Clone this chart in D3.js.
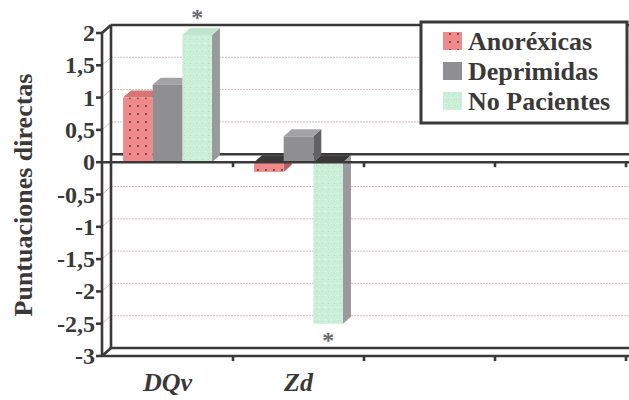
<!DOCTYPE html>
<html>
<head>
<meta charset="utf-8">
<script src="https://cdn.jsdelivr.net/npm/d3@7"></script>
<style>
  body { margin: 0; background: #fff; }
  svg { display: block; }
  text { font-family: "Liberation Serif", "Times New Roman", serif; font-weight: bold; fill: #3b3838; }
</style>
</head>
<body>
<svg id="chart" width="629" height="400"></svg>
<script>
// data
var categories = ["DQv", "Zd"];
var slots = 4; // the axis has room for 4 categories, only 2 used
var series = ["Anoréxicas", "Deprimidas", "No Pacientes"];
var anorexicas = [1.0, -0.15];
var deprimidas = [1.2, 0.4];
var noPacientes = [1.97, -2.5];
var yTicks = [2, 1.5, 1, 0.5, 0, -0.5, -1, -1.5, -2, -2.5, -3];
var asterisks = [["DQv", "No Pacientes"], ["Zd", "No Pacientes"]];

var values = [anorexicas, deprimidas, noPacientes];

var svg = d3.select("#chart");
var W = 629;

var plotLeft = 102, plotRight = 626, plotTop = 33, plotBottom = 356;
var wall = {x: 9, y: -8};   // depth of the back wall
var deep = {x: 8, y: -7};   // depth of a bar
var ink = "#3a3838";

var y = d3.scaleLinear().domain([-3, 2]).range([plotBottom, plotTop]);
var xSlot = d3.scaleBand().domain(d3.range(slots)).range([plotLeft, plotRight]);
var xSer = d3.scaleBand().domain(series).range([0, xSlot.bandwidth()]).paddingOuter(0.71);

var colors = {
    "Anoréxicas":   {front: "url(#dots)",  top: "#d87474", side: "#b86060", sw: "url(#dots)"},
    "Deprimidas":   {front: "#8f8f92",     top: "#a3a3a6", side: "#626264", sw: "#8f8f92"},
    "No Pacientes": {front: "url(#speck)", top: "#bfe6cc", side: "#9a9a9e", sw: "url(#speck)"}
};

// patterns
var defs = svg.append("defs");
var pd = defs.append("pattern").attr("id", "dots").attr("patternUnits", "userSpaceOnUse")
    .attr("width", 8).attr("height", 8);
pd.append("rect").attr("width", 8).attr("height", 8).attr("fill", "#f08a8a");
pd.append("circle").attr("cx", 2).attr("cy", 2).attr("r", 0.9).attr("fill", "#4a3030");
var ps = defs.append("pattern").attr("id", "speck").attr("patternUnits", "userSpaceOnUse")
    .attr("width", 6).attr("height", 6);
ps.append("rect").attr("width", 6).attr("height", 6).attr("fill", "#c9f0d6");
ps.append("rect").attr("x", 1).attr("y", 1).attr("width", 1).attr("height", 1).attr("fill", "#e6fbee");
ps.append("rect").attr("x", 4).attr("y", 3).attr("width", 1).attr("height", 1).attr("fill", "#b2dcc0");
ps.append("rect").attr("x", 2).attr("y", 5).attr("width", 1).attr("height", 1).attr("fill", "#d8d8ea");

// gridlines on back wall and left wall
var grid = svg.append("g");
yTicks.filter(function(t) { return t !== 2 && t !== -3 && t !== 0; }).forEach(function(t) {
    grid.append("line")
        .attr("x1", plotLeft + wall.x).attr("x2", W)
        .attr("y1", y(t) + wall.y).attr("y2", y(t) + wall.y)
        .attr("stroke", "#d8bcc2").attr("stroke-width", 1).attr("stroke-dasharray", "2,1");
    grid.append("line")
        .attr("x1", plotLeft).attr("x2", plotLeft + wall.x)
        .attr("y1", y(t)).attr("y2", y(t) + wall.y)
        .attr("stroke", "#d8bcc2").attr("stroke-width", 1);
});

// frame lines
var frame = svg.append("g").attr("stroke", ink).attr("stroke-width", 2.6).attr("fill", "none");
function seg(x1, y1, x2, y2) {
    frame.append("line").attr("x1", x1).attr("y1", y1).attr("x2", x2).attr("y2", y2);
}
seg(plotLeft + wall.x, y(2) + wall.y, W, y(2) + wall.y);
seg(plotLeft + wall.x, y(2) + wall.y, plotLeft + wall.x, y(-3) + wall.y);
seg(plotLeft + wall.x, y(-3) + wall.y, W, y(-3) + wall.y);
seg(plotLeft, y(2), plotLeft + wall.x, y(2) + wall.y);
seg(plotLeft, y(-3), plotLeft + wall.x, y(-3) + wall.y);
seg(plotLeft + wall.x, y(0) + wall.y, W, y(0) + wall.y);

// bars
var bars = svg.append("g");
categories.forEach(function(cat, ci) {
    series.forEach(function(s, si) {
        var v = values[si][ci];
        var x0 = xSlot(ci) + xSer(s), x1 = x0 + xSer.bandwidth();
        var yTop = y(Math.max(v, 0)), yBot = y(Math.min(v, 0));
        var c = colors[s];
        // side
        bars.append("path")
            .attr("d", "M" + x1 + "," + yTop + "L" + (x1 + deep.x) + "," + (yTop + deep.y) +
                "L" + (x1 + deep.x) + "," + (yBot + deep.y) + "L" + x1 + "," + yBot + "Z")
            .attr("fill", c.side);
        // top
        bars.append("path")
            .attr("d", "M" + x0 + "," + yTop + "L" + (x0 + deep.x) + "," + (yTop + deep.y) +
                "L" + (x1 + deep.x) + "," + (yTop + deep.y) + "L" + x1 + "," + yTop + "Z")
            .attr("fill", v < 0 ? ink : c.top);
        // front
        bars.append("rect")
            .attr("x", x0).attr("y", yTop)
            .attr("width", x1 - x0).attr("height", yBot - yTop)
            .attr("fill", c.front);
    });
});

// front axes over the bars
var axes = svg.append("g").attr("stroke", ink).attr("stroke-width", 2.6).attr("fill", "none");
axes.append("line").attr("x1", plotLeft).attr("x2", plotLeft).attr("y1", y(2)).attr("y2", y(-3));
axes.append("line").attr("x1", plotLeft).attr("x2", W).attr("y1", y(-3)).attr("y2", y(-3));
axes.append("line").attr("x1", plotLeft).attr("x2", W).attr("y1", y(0)).attr("y2", y(0));
yTicks.forEach(function(t) {
    axes.append("line").attr("x1", plotLeft - 6).attr("x2", plotLeft).attr("y1", y(t)).attr("y2", y(t));
});
d3.range(1, slots + 1).forEach(function(i) {
    var xx = xSlot(0) + i * xSlot.step();
    axes.append("line").attr("x1", xx).attr("x2", xx).attr("y1", y(0)).attr("y2", y(0) + 5);
    axes.append("line").attr("x1", xx).attr("x2", xx).attr("y1", y(-3)).attr("y2", y(-3) + 5);
});

// y tick labels
svg.append("g").selectAll("text").data(yTicks).enter().append("text")
    .attr("x", 95).attr("y", function(d) { return y(d) + 8; })
    .attr("text-anchor", "end").attr("font-size", 24)
    .text(function(d) { return String(d).replace(".", ","); });

// y title
svg.append("text")
    .attr("transform", "translate(32,195) rotate(-90)")
    .attr("text-anchor", "middle").attr("font-size", 26)
    .text("Puntuaciones directas");

// category labels
svg.append("g").selectAll("text").data(categories).enter().append("text")
    .attr("x", function(d, i) { return xSlot(i) + xSlot.bandwidth() / 2; })
    .attr("y", 391).attr("text-anchor", "middle")
    .attr("font-size", 26).attr("font-style", "italic")
    .text(function(d) { return d; });

// asterisks
asterisks.forEach(function(a) {
    var ci = categories.indexOf(a[0]), si = series.indexOf(a[1]);
    var v = values[si][ci];
    var xc = xSlot(ci) + xSer(a[1]) + xSer.bandwidth() / 2;
    svg.append("text")
        .attr("x", xc).attr("y", v > 0 ? y(v) - 10 : y(v) + 24)
        .attr("text-anchor", "middle").attr("font-size", 24).attr("font-weight", "normal")
        .style("fill", "#6a6a70")
        .text("*");
});

// legend
var lg = svg.append("g");
lg.append("rect").attr("x", 421).attr("y", 22).attr("width", 206).attr("height", 101)
    .attr("fill", "#fff").attr("stroke", ink).attr("stroke-width", 3);
series.forEach(function(s, i) {
    var base = 50 + i * 30;
    lg.append("rect").attr("x", 443).attr("y", base - 18).attr("width", 19).attr("height", 18)
        .attr("fill", colors[s].sw);
    lg.append("text").attr("x", 468).attr("y", base).attr("font-size", 26).text(s);
});
</script>
</body>
</html>
